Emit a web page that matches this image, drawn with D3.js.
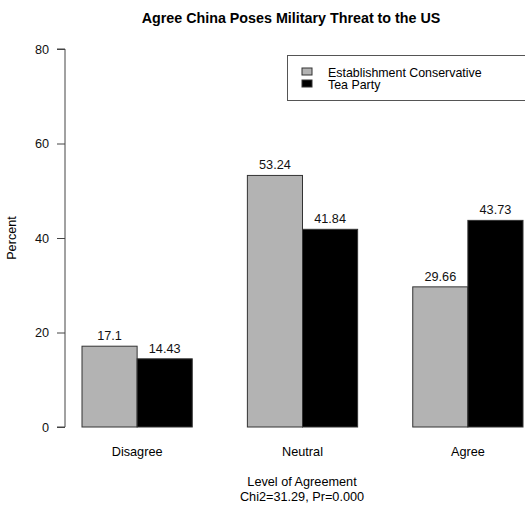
<!DOCTYPE html>
<html><head><meta charset="utf-8">
<script src="https://cdn.jsdelivr.net/npm/d3@7"></script>
<style>body{margin:0;background:#fff}svg{display:block;font-family:"Liberation Sans",Arial,Helvetica,sans-serif}</style>
</head><body><svg id="c" width="525" height="506"></svg>
<script>
const categories = ["Disagree", "Neutral", "Agree"];
const seriesNames = ["Establishment Conservative", "Tea Party"];
const establishment = [17.1, 53.24, 29.66];
const teaParty = [14.43, 41.84, 43.73];
const valueLabels = [["17.1", "53.24", "29.66"], ["14.43", "41.84", "43.73"]];
const yTicks = [0, 20, 40, 60, 80];
const colors = ["#b3b3b3", "#000000"];

const FS = 12.7;
const svg = d3.select("#c");
const y = d3.scaleLinear().domain([0, 80]).range([427, 49]);
const x0 = d3.scaleBand().domain(categories).range([82, 523]).paddingInner(1/3).paddingOuter(0);
const x1 = d3.scaleBand().domain([0, 1]).range([0, x0.bandwidth()]);
const series = [establishment, teaParty];

// title
svg.append("text").attr("x", 291).attr("y", 23).attr("text-anchor", "middle")
  .attr("font-weight", "bold").attr("font-size", 14.3).text("Agree China Poses Military Threat to the US");

// bars
series.forEach((vals, s) => {
  svg.append("g").selectAll("rect").data(vals).join("rect")
    .attr("x", (d, i) => x0(categories[i]) + x1(s))
    .attr("y", d => y(d))
    .attr("width", x1.bandwidth())
    .attr("height", d => y(0) - y(d))
    .attr("fill", colors[s]).attr("stroke", "#333").attr("stroke-width", 1);
  svg.append("g").selectAll("text").data(vals).join("text")
    .attr("x", (d, i) => x0(categories[i]) + x1(s) + x1.bandwidth() / 2)
    .attr("y", d => y(d) - 6)
    .attr("text-anchor", "middle").attr("font-size", FS).attr("fill", "#111")
    .text((d, i) => valueLabels[s][i]);
});

// y axis
const ax = svg.append("g").attr("transform", "translate(65,0)")
  .call(d3.axisLeft(y).tickValues(yTicks).tickSize(8).tickPadding(8).tickFormat(d3.format("d")));
ax.select(".domain").attr("stroke", "#444").attr("d", `M-8,${y(0)}H0V${y(80)}H-8`);
ax.selectAll(".tick line").attr("stroke", "#444");
ax.selectAll(".tick text").attr("font-size", FS).attr("fill", "#111").attr("font-family", null);

svg.append("text").attr("transform", `translate(16,${y(40)}) rotate(-90)`)
  .attr("text-anchor", "middle").attr("font-size", FS).text("Percent");

// category labels
svg.append("g").selectAll("text").data(categories).join("text")
  .attr("x", d => x0(d) + x0.bandwidth() / 2).attr("y", 456)
  .attr("text-anchor", "middle").attr("font-size", FS).text(d => d);

svg.append("text").attr("x", 302).attr("y", 486).attr("text-anchor", "middle").attr("font-size", FS).text("Level of Agreement");
svg.append("text").attr("x", 302).attr("y", 501).attr("text-anchor", "middle").attr("font-size", FS).text("Chi2=31.29, Pr=0.000");

// legend
const lg = svg.append("g");
lg.append("rect").attr("x", 287.5).attr("y", 55.5).attr("width", 250).attr("height", 45)
  .attr("fill", "#fff").attr("stroke", "#555");
seriesNames.forEach((n, i) => {
  lg.append("rect").attr("x", 302).attr("y", 68 + i * 12).attr("width", 10).attr("height", 7)
    .attr("fill", colors[i]).attr("stroke", "#333");
  lg.append("text").attr("x", 328).attr("y", 76.5 + i * 12.5).attr("font-size", 12.4).text(n);
});
</script></body></html>
